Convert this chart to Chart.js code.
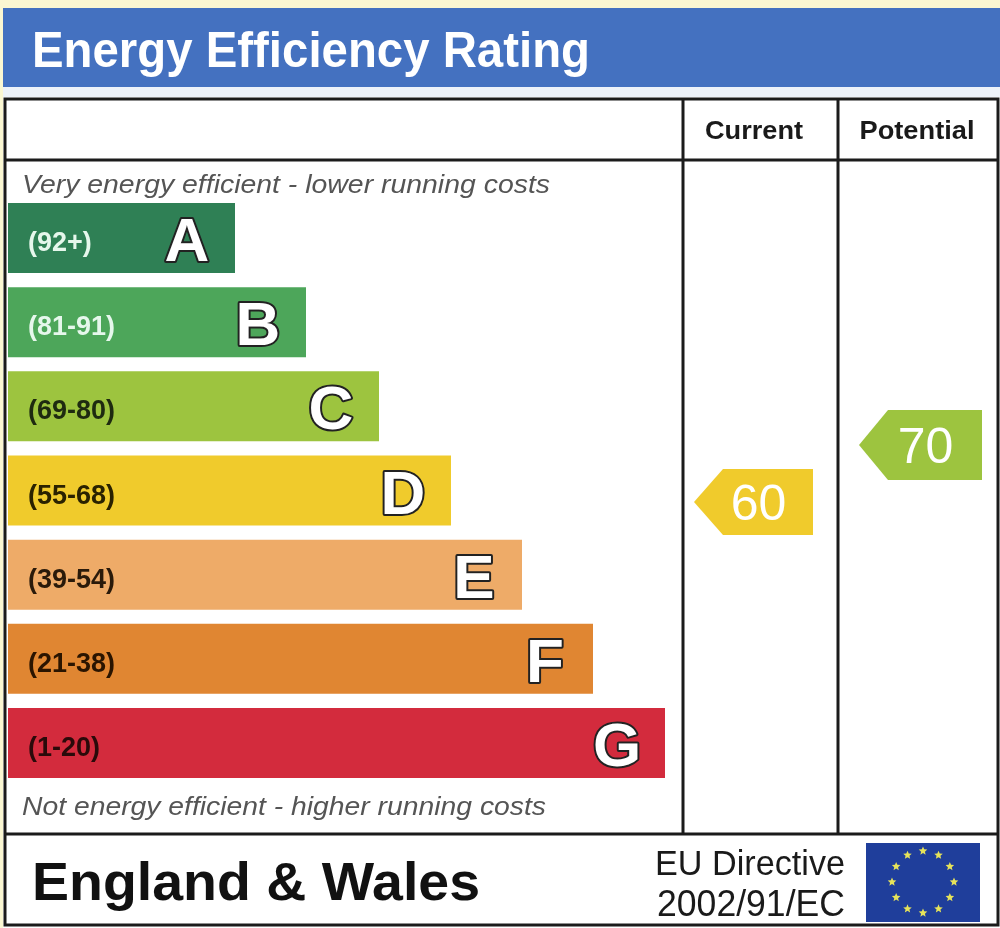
<!DOCTYPE html>
<html>
<head>
<meta charset="utf-8">
<title>Energy Efficiency Rating</title>
<script src="https://cdn.jsdelivr.net/npm/chart.js@4.4.1/dist/chart.umd.min.js"></script>
<style>
  html, body { margin: 0; padding: 0; background: #fff; overflow: hidden; }
  canvas { display: block; }
</style>
</head>
<body>
<canvas id="epc" width="1000" height="928"></canvas>
<script>
// bands, top (most efficient) to bottom
const bandLetters = ["A", "B", "C", "D", "E", "F", "G"];
const bandRanges = ["(92+)", "(81-91)", "(69-80)", "(55-68)", "(39-54)", "(21-38)", "(1-20)"];
const bandLengths = [227, 298, 371, 443, 514, 585, 657];

const currentRating = 60;
const potentialRating = 70;

const bandColors = ["#2f8055", "#4da65a", "#9dc43f", "#f0cb2c", "#eeab68", "#e08632", "#d32b3d"];
const rangeTextColors = ["#e6f7ec", "#e6f7ec", "#1e2a10", "#2a2200", "#2a1a0a", "#2a1400", "#2a0a0a"];

const FONT = "'Liberation Sans', Arial, sans-serif";
const FRAME = "#1b1b1b";

// text helper, squeezes to a given width when asked
function drawText(ctx, str, x, y, font, color, align, width) {
  ctx.save();
  ctx.font = font;
  ctx.fillStyle = color;
  ctx.textAlign = align || "left";
  ctx.textBaseline = "alphabetic";
  let sx = 1;
  if (width) sx = width / ctx.measureText(str).width;
  ctx.translate(x, y);
  ctx.scale(sx, 1);
  ctx.fillText(str, 0, 0);
  ctx.restore();
}

function drawArrow(ctx, tipX, rightX, cy, h, color, label) {
  const point = 29;
  ctx.save();
  ctx.fillStyle = color;
  ctx.beginPath();
  ctx.moveTo(tipX, cy);
  ctx.lineTo(tipX + point, cy - h / 2);
  ctx.lineTo(rightX, cy - h / 2);
  ctx.lineTo(rightX, cy + h / 2);
  ctx.lineTo(tipX + point, cy + h / 2);
  ctx.closePath();
  ctx.fill();
  ctx.restore();
  drawText(ctx, label, (tipX + rightX) / 2 + 5, cy + 18, "50px " + FONT, "#ffffff", "center");
}

function drawStar(ctx, cx, cy, r) {
  ctx.beginPath();
  for (let i = 0; i < 10; i++) {
    const rad = i % 2 === 0 ? r : r * 0.45;
    const a = -Math.PI / 2 + i * Math.PI / 5;
    ctx.lineTo(cx + rad * Math.cos(a), cy + rad * Math.sin(a));
  }
  ctx.closePath();
  ctx.fill();
}

const epcFrame = {
  id: "epcFrame",
  beforeDraw(chart) {
    const ctx = chart.ctx;
    ctx.save();
    ctx.fillStyle = "#ffffff";
    ctx.fillRect(0, 0, 1000, 928);
    // pale yellow edges
    ctx.fillStyle = "#fbf7d2";
    ctx.fillRect(0, 0, 1000, 8);
    ctx.fillRect(0, 0, 3, 928);
    // blue title band
    ctx.fillStyle = "#4471c0";
    ctx.fillRect(3, 8, 997, 79);
    ctx.fillStyle = "#edf2f9";
    ctx.fillRect(3, 87, 997, 10);
    ctx.restore();
    drawText(ctx, "Energy Efficiency Rating", 32, 67, "bold 50px " + FONT, "#ffffff", "left", 558);
  },
  afterDatasetsDraw(chart) {
    const ctx = chart.ctx;
    const x = chart.scales.x;
    const y = chart.scales.y;
    const rating = chart.scales.rating;

    // band labels
    bandLetters.forEach((letter, i) => {
      const cy = y.getPixelForValue(i);
      const end = x.getPixelForValue(bandLengths[i]);
      drawText(ctx, bandRanges[i], 28, cy + 13, "bold 27px " + FONT, rangeTextColors[i], "left");
      ctx.save();
      ctx.font = "bold 62px " + FONT;
      ctx.textAlign = "center";
      ctx.textBaseline = "alphabetic";
      ctx.lineJoin = "round";
      ctx.lineWidth = 4;
      ctx.strokeStyle = "#222222";
      ctx.strokeText(letter, end - 48, cy + 23);
      ctx.fillStyle = "#ffffff";
      ctx.fillText(letter, end - 48, cy + 23);
      ctx.restore();
    });

    drawText(ctx, "Very energy efficient - lower running costs", 22, 193, "italic 26px " + FONT, "#555555", "left", 528);
    drawText(ctx, "Not energy efficient - higher running costs", 22, 815, "italic 26px " + FONT, "#555555", "left", 524);

    // rating arrows
    drawArrow(ctx, 694, 813, rating.getPixelForValue(currentRating), 66,
      bandColors[3], String(currentRating));
    drawArrow(ctx, 859, 982, rating.getPixelForValue(potentialRating), 70,
      bandColors[2], String(potentialRating));
  },
  afterDraw(chart) {
    const ctx = chart.ctx;
    ctx.save();
    ctx.strokeStyle = FRAME;
    ctx.lineWidth = 3;
    ctx.strokeRect(5, 99, 993, 826);
    ctx.beginPath();
    ctx.moveTo(5, 160); ctx.lineTo(998, 160);
    ctx.moveTo(5, 834); ctx.lineTo(998, 834);
    ctx.moveTo(683, 99); ctx.lineTo(683, 834);
    ctx.moveTo(838, 99); ctx.lineTo(838, 834);
    ctx.stroke();
    ctx.restore();

    drawText(ctx, "Current", 754, 139, "bold 26px " + FONT, "#1a1a1a", "center", 98);
    drawText(ctx, "Potential", 917, 139, "bold 26px " + FONT, "#1a1a1a", "center", 115);

    drawText(ctx, "England & Wales", 32, 900, "bold 54px " + FONT, "#111111", "left", 448);
    drawText(ctx, "EU Directive", 655, 875, "35px " + FONT, "#1a1a1a", "left", 190);
    drawText(ctx, "2002/91/EC", 657, 916, "36px " + FONT, "#1a1a1a", "left", 188);

    // EU flag
    ctx.save();
    ctx.fillStyle = "#1f3e9b";
    ctx.fillRect(866, 843, 114, 79);
    ctx.fillStyle = "#e6e35a";
    for (let i = 0; i < 12; i++) {
      const a = i * Math.PI / 6;
      drawStar(ctx, 923 + 31 * Math.sin(a), 882 - 31 * Math.cos(a), 4.5);
    }
    ctx.restore();
  }
};

new Chart(document.getElementById("epc"), {
  type: "bar",
  data: {
    labels: bandLetters,
    datasets: [
      {
        data: bandLengths,
        backgroundColor: bandColors,
        borderWidth: 0,
        barPercentage: 0.832,
        categoryPercentage: 1,
      },
    ],
  },
  options: {
    indexAxis: "y",
    responsive: false,
    devicePixelRatio: 1,
    animation: false,
    layout: {
      padding: { left: 8, right: 2, top: 196, bottom: 143 },
    },
    scales: {
      x: { type: "linear", min: 0, max: 990, display: false },
      y: { type: "category", display: false },
      rating: { type: "linear", axis: "y", position: "right", min: 15, max: 109, display: false },
    },
    plugins: {
      legend: { display: false },
      tooltip: { enabled: false },
    },
  },
  plugins: [epcFrame],
});
</script>
</body>
</html>
